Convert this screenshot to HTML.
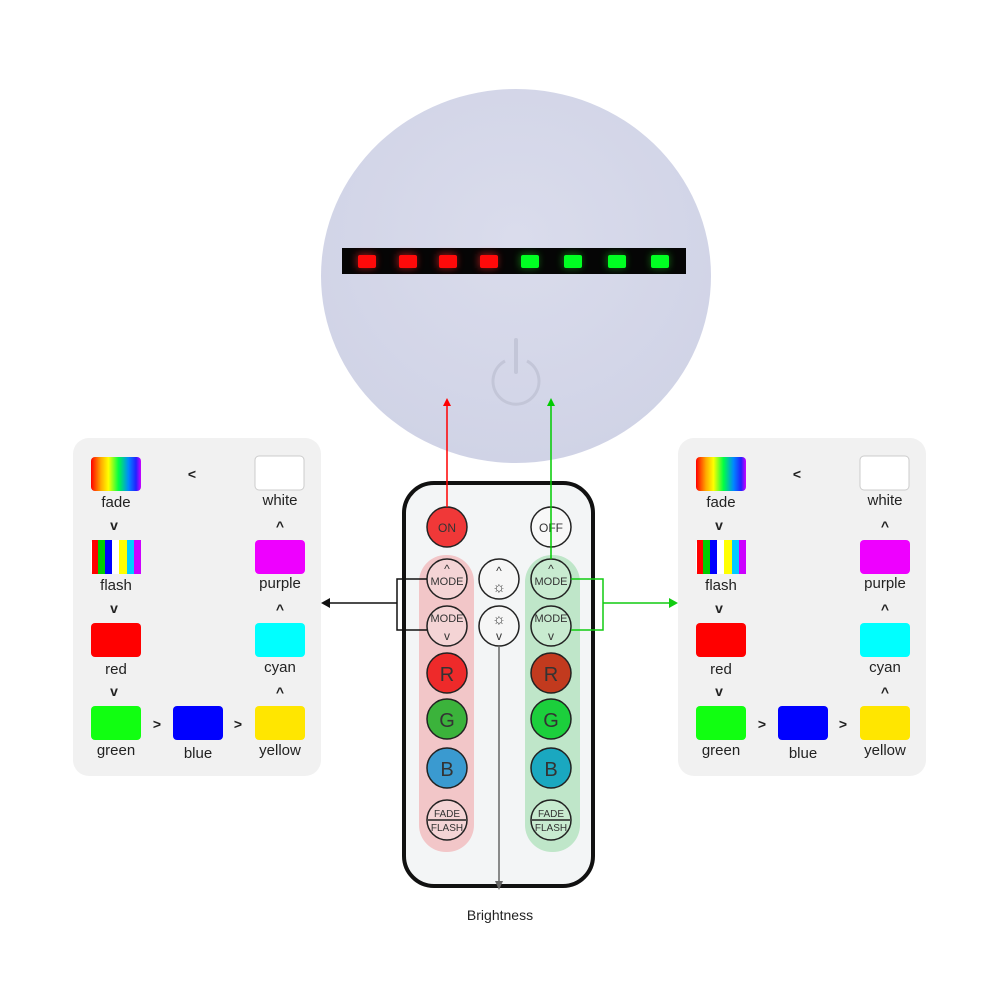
<!DOCTYPE html>
<html><head><style>
body{margin:0;background:#fff;}
svg text{font-family:"Liberation Sans",sans-serif;}
</style></head><body>
<svg width="1000" height="1000" viewBox="0 0 1000 1000" xmlns="http://www.w3.org/2000/svg">
<defs>
<linearGradient id="fade" x1="0" x2="1">
<stop offset="0" stop-color="#f00"/><stop offset="0.2" stop-color="#fa0"/><stop offset="0.35" stop-color="#ff0"/><stop offset="0.55" stop-color="#0f4"/><stop offset="0.75" stop-color="#08f"/><stop offset="0.9" stop-color="#22f"/><stop offset="1" stop-color="#c0f"/>
</linearGradient>
<radialGradient id="lamp" cx="0.5" cy="0.4" r="0.6"><stop offset="0" stop-color="#dadcec"/><stop offset="1" stop-color="#d0d3e6"/></radialGradient>
<filter id="glow" x="-1" y="-1" width="3" height="3"><feGaussianBlur stdDeviation="4"/></filter>
</defs>

<!-- lamp -->
<ellipse cx="516" cy="276" rx="195" ry="187" fill="url(#lamp)"/>
<rect x="342" y="248" width="344" height="26" fill="#050505"/>
<g fill="#f22" opacity="0.6" filter="url(#glow)">
<rect x="357" y="254" width="18" height="14"/><rect x="398" y="254" width="18" height="14"/><rect x="438" y="254" width="18" height="14"/><rect x="479" y="254" width="18" height="14"/>
</g>
<g fill="#2f2" opacity="0.4" filter="url(#glow)">
<rect x="520" y="254" width="18" height="14"/><rect x="563" y="254" width="18" height="14"/><rect x="607" y="254" width="18" height="14"/><rect x="651" y="254" width="18" height="14"/>
</g>
<g fill="#ff0a0a">
<rect x="358" y="255" width="18" height="13" rx="2"/><rect x="399" y="255" width="18" height="13" rx="2"/><rect x="439" y="255" width="18" height="13" rx="2"/><rect x="480" y="255" width="18" height="13" rx="2"/>
</g>
<g fill="#0f2">
<rect x="521" y="255" width="18" height="13" rx="2"/><rect x="564" y="255" width="18" height="13" rx="2"/><rect x="608" y="255" width="18" height="13" rx="2"/><rect x="651" y="255" width="18" height="13" rx="2"/>
</g>
<path d="M505 361 A23 23 0 1 0 527 361" fill="none" stroke="#c3c6d8" stroke-width="3"/>
<line x1="516" y1="340" x2="516" y2="372" stroke="#c3c6d8" stroke-width="4" stroke-linecap="round"/>

<!-- panels -->
<rect x="73" y="438" width="248" height="338" rx="16" fill="#f1f1f1"/>
<rect x="678" y="438" width="248" height="338" rx="16" fill="#f1f1f1"/>
<g id="panel">
<rect x="91" y="457" width="50" height="34" rx="4" fill="url(#fade)"/>
<g>
<rect x="91" y="540" width="50" height="34" rx="4" fill="#fff"/>
<rect x="92" y="540" width="6" height="34" fill="#f00"/><rect x="98" y="540" width="7" height="34" fill="#0c0"/><rect x="105" y="540" width="7" height="34" fill="#00f"/><rect x="119" y="540" width="8" height="34" fill="#ff0"/><rect x="127" y="540" width="7" height="34" fill="#0cf"/><rect x="134" y="540" width="7" height="34" fill="#c0f"/>
</g>
<rect x="91" y="623" width="50" height="34" rx="4" fill="#f00"/>
<rect x="91" y="706" width="50" height="34" rx="4" fill="#1f1"/>
<rect x="173" y="706" width="50" height="34" rx="4" fill="#00f"/>
<rect x="255" y="706" width="50" height="34" rx="4" fill="#ffe600"/>
<rect x="255" y="623" width="50" height="34" rx="4" fill="#0ff"/>
<rect x="255" y="540" width="50" height="34" rx="4" fill="#e0f"/>
<rect x="255" y="456" width="49" height="34" rx="4" fill="#fff" stroke="#ccc"/>
<g font-size="15" fill="#222" text-anchor="middle">
<text x="116" y="507">fade</text><text x="116" y="590">flash</text><text x="116" y="674">red</text><text x="116" y="755">green</text>
<text x="198" y="758">blue</text><text x="280" y="755">yellow</text><text x="280" y="672">cyan</text><text x="280" y="588">purple</text><text x="280" y="505">white</text>
<g font-weight="bold" font-size="14">
<text x="192" y="479">&lt;</text>
<text x="114" y="530">v</text><text x="114" y="613">v</text><text x="114" y="696">v</text>
<text x="157" y="729">&gt;</text><text x="238" y="729">&gt;</text>
<text x="280" y="531">^</text><text x="280" y="614">^</text><text x="280" y="697">^</text>
</g>
</g>
</g>
<use href="#panel" transform="translate(605,0)"/>

<!-- remote -->
<rect x="404" y="483" width="189" height="403" rx="30" fill="#f3f5f6" stroke="#111" stroke-width="4"/>
<rect x="419" y="555" width="55" height="297" rx="27" fill="#f2c6c8"/>
<rect x="525" y="555" width="55" height="297" rx="27" fill="#bfe6c9"/>
<g stroke="#222" stroke-width="1.5">
<circle cx="447" cy="527" r="20" fill="#f03838"/>
<circle cx="551" cy="527" r="20" fill="#f8f8f8"/>
<circle cx="447" cy="579" r="20" fill="#f4d4d5"/>
<circle cx="447" cy="626" r="20" fill="#f4d4d5"/>
<circle cx="499" cy="579" r="20" fill="#f6f6f6"/>
<circle cx="499" cy="626" r="20" fill="#f6f6f6"/>
<circle cx="551" cy="579" r="20" fill="#c8ebd0"/>
<circle cx="551" cy="626" r="20" fill="#c8ebd0"/>
<circle cx="447" cy="673" r="20" fill="#ee2a2a"/>
<circle cx="447" cy="719" r="20" fill="#3bb33b"/>
<circle cx="447" cy="768" r="20" fill="#3a9ad0"/>
<circle cx="447" cy="820" r="20" fill="#f4d4d5"/>
<circle cx="551" cy="673" r="20" fill="#c23a1e"/>
<circle cx="551" cy="719" r="20" fill="#1ccf3c"/>
<circle cx="551" cy="768" r="20" fill="#1aa8c0"/>
<circle cx="551" cy="820" r="20" fill="#c8ebd0"/>
<line x1="428" y1="820" x2="466" y2="820"/><line x1="532" y1="820" x2="570" y2="820"/>
</g>
<g font-size="12" fill="#333" text-anchor="middle">
<text x="447" y="532">ON</text><text x="551" y="532">OFF</text>
<text x="447" y="585" font-size="11">MODE</text><text x="447" y="622" font-size="11">MODE</text>
<text x="551" y="585" font-size="11">MODE</text><text x="551" y="622" font-size="11">MODE</text>
<text x="447" y="573">^</text><text x="551" y="573">^</text><text x="499" y="575">^</text>
<text x="447" y="640">v</text><text x="551" y="640">v</text><text x="499" y="640">v</text>
<text x="499" y="592" font-size="15">☼</text><text x="499" y="624" font-size="15">☼</text>
<text x="447" y="681" font-size="20">R</text><text x="447" y="727" font-size="20">G</text><text x="447" y="776" font-size="20">B</text>
<text x="551" y="681" font-size="20">R</text><text x="551" y="727" font-size="20">G</text><text x="551" y="776" font-size="20">B</text>
<text x="447" y="817" font-size="10">FADE</text><text x="447" y="831" font-size="10">FLASH</text>
<text x="551" y="817" font-size="10">FADE</text><text x="551" y="831" font-size="10">FLASH</text>
</g>

<!-- connectors -->
<line x1="447" y1="404" x2="447" y2="507" stroke="#f00" stroke-width="1.5"/>
<polygon points="447,398 443,406 451,406" fill="#f00"/>
<line x1="551" y1="404" x2="551" y2="559" stroke="#0c0" stroke-width="1.5"/>
<polygon points="551,398 547,406 555,406" fill="#0c0"/>
<path d="M427 579 H397 V630 H427 M397 603 H328" fill="none" stroke="#111" stroke-width="1.5"/>
<polygon points="321,603 330,598 330,608" fill="#111"/>
<path d="M571 579 H603 V630 H571 M603 603 H670" fill="none" stroke="#1c1" stroke-width="1.5"/>
<polygon points="678,603 669,598 669,608" fill="#1c1"/>
<line x1="499" y1="646" x2="499" y2="882" stroke="#666" stroke-width="1.5"/>
<polygon points="499,890 495,881 503,881" fill="#666"/>
<text x="500" y="920" font-size="14" fill="#222" text-anchor="middle">Brightness</text>
</svg>
</body></html>
